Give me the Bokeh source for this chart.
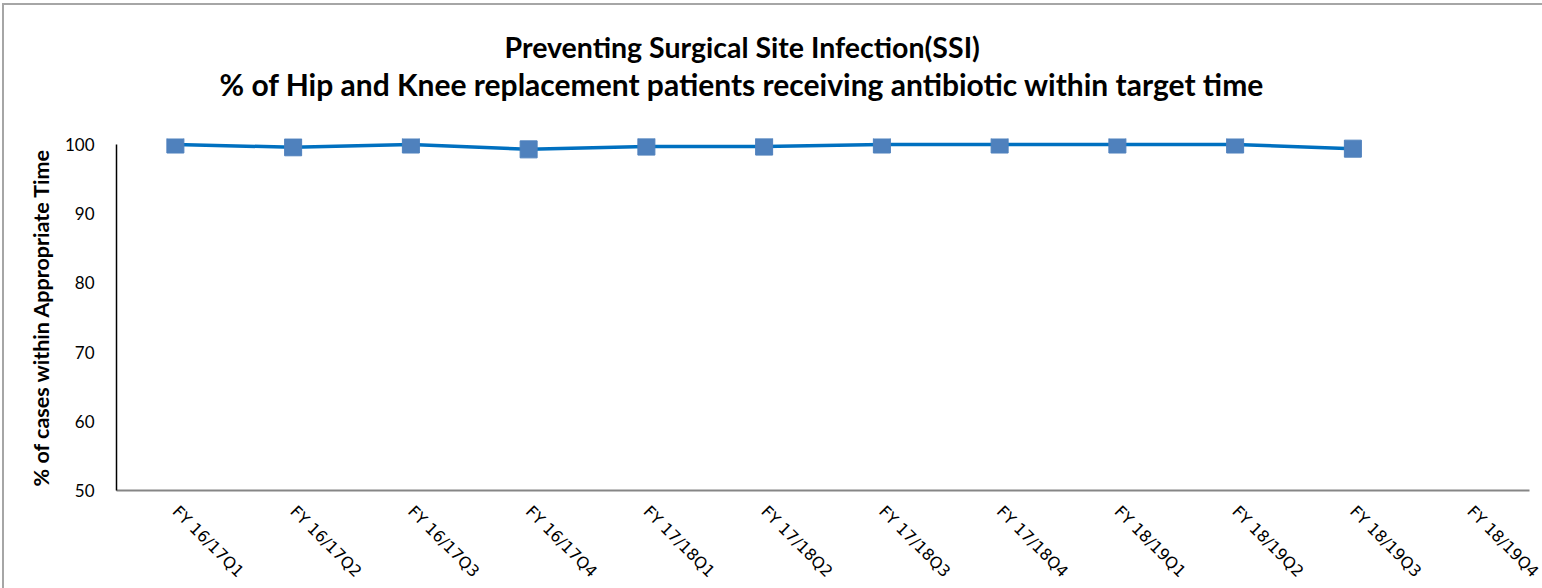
import math
from bokeh.plotting import figure
from bokeh.models import FactorRange, Range1d, FixedTicker, ColumnDataSource, Title
from bokeh.embed import file_html
from bokeh.resources import INLINE

categories = ["FY 16/17Q1", "FY 16/17Q2", "FY 16/17Q3", "FY 16/17Q4",
              "FY 17/18Q1", "FY 17/18Q2", "FY 17/18Q3", "FY 17/18Q4",
              "FY 18/19Q1", "FY 18/19Q2", "FY 18/19Q3", "FY 18/19Q4"]
# last quarter has no value yet
values = [100, 99.6, 100, 99.3, 99.7, 99.7, 100, 100, 100, 100, 99.4]
y_ticks = [50, 60, 70, 80, 90, 100]
title_line1 = "Preventing Surgical Site Infection(SSI)"
title_line2 = "% of Hip and Knee replacement patients receiving antibiotic within target time"
y_title = "% of  cases within Appropriate Time"

src = ColumnDataSource(dict(x=categories[:len(values)], y=values))

p = figure(x_range=FactorRange(*categories, range_padding=0, factor_padding=0),
           y_range=Range1d(50, 100.87),
           frame_width=1413, frame_height=352,
           min_border_left=112, min_border_right=13, min_border_top=133, min_border_bottom=93,
           output_backend="svg", toolbar_location=None)
p.styles = {"margin-left": "2px", "margin-top": "3px",
            "border-left": "2px solid #a6a6a6", "border-top": "2px solid #a6a6a6",
            "border-right": "none", "border-bottom": "none"}

p.outline_line_color = None
p.xgrid.visible = False
p.ygrid.visible = False

p.line("x", "y", source=src, line_color="#0070C0", line_width=3.5)
p.scatter("x", "y", source=src, marker="square", size=17,
          fill_color="#4F81BD", line_color="#4F81BD")

ya = p.yaxis[0]
ya.ticker = FixedTicker(ticks=y_ticks)
ya.bounds = (50, 100)
ya.axis_line_color = "black"
ya.axis_line_width = 1.5
ya.major_tick_line_color = None
ya.minor_tick_line_color = None
ya.major_label_text_font = "Lato"
ya.major_label_text_font_size = "17px"
ya.major_label_text_color = "black"
ya.major_label_standoff = 16
ya.axis_label = y_title
ya.axis_label_text_font = "Lato"
ya.axis_label_text_font_style = "bold"
ya.axis_label_text_font_size = "21.5px"
ya.axis_label_text_color = "black"
ya.axis_label_standoff = 8

xa = p.xaxis[0]
xa.axis_line_color = "#868686"
xa.axis_line_width = 2
xa.major_tick_line_color = None
xa.minor_tick_line_color = None
xa.major_label_orientation = -math.pi / 4
xa.major_label_text_font = "DejaVu Sans"
xa.major_label_text_font_size = "16px"
xa.major_label_text_color = "black"
xa.major_label_standoff = 12

p.title.text = ""

# spacer between frame and title lines (innermost), then line 2, then line 1 (outermost)
spacer = Title(text=" ", text_font_size="10px", standoff=24)
t2 = Title(text=title_line2, align="left", offset=103, text_font="Lato",
           text_font_style="bold", text_font_size="30px", text_color="black",
           standoff=0)
t1 = Title(text=title_line1, align="left", offset=388, text_font="Lato",
           text_font_style="bold", text_font_size="28.5px", text_color="black",
           standoff=0)
p.add_layout(spacer, "above")
p.add_layout(t2, "above")
p.add_layout(t1, "above")

open("out.html", "w").write(file_html(p, INLINE))
